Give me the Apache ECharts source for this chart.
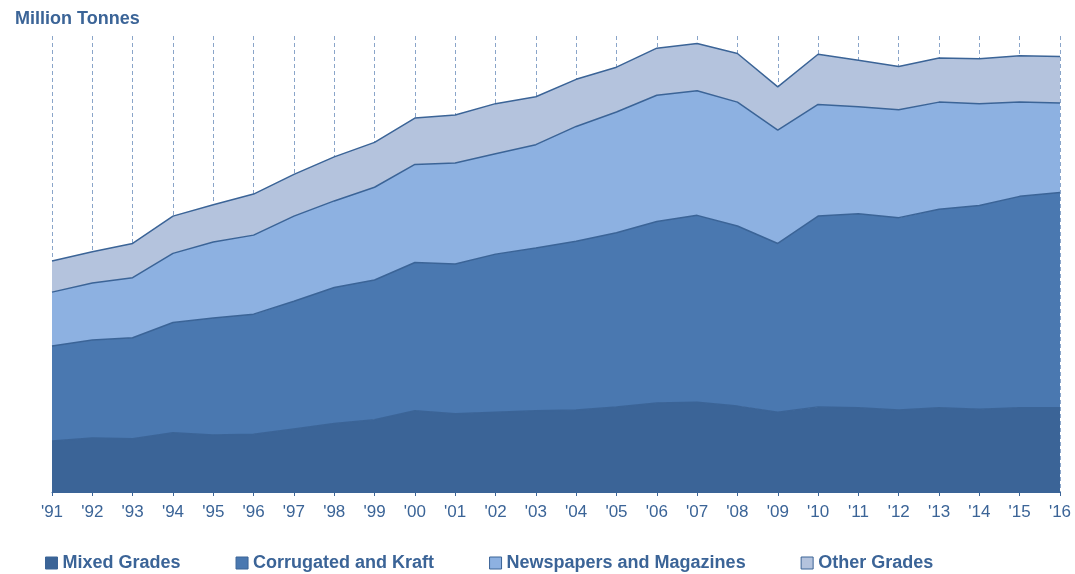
<!DOCTYPE html>
<html>
<head>
<meta charset="utf-8">
<script src="https://cdn.jsdelivr.net/npm/echarts@6/dist/echarts.min.js"></script>
<style>
  html, body { margin: 0; padding: 0; background: #fff; }
  #main { width: 1075px; height: 574px; }
</style>
</head>
<body>
<div id="main"></div>
<script>
var myChart = echarts.init(document.getElementById('main'));

// Years shown on the x axis
const years = ["'91", "'92", "'93", "'94", "'95", "'96", "'97", "'98", "'99", "'00", "'01", "'02", "'03",
               "'04", "'05", "'06", "'07", "'08", "'09", "'10", "'11", "'12", "'13", "'14", "'15", "'16"];

// Recovered paper by grade, million tonnes
const mixedGrades = [6.7, 7.1, 7.0, 7.8, 7.5, 7.6, 8.3, 9.0, 9.5, 10.7, 10.3, 10.5, 10.7,
                     10.8, 11.2, 11.7, 11.8, 11.3, 10.5, 11.2, 11.1, 10.8, 11.1, 10.9, 11.1, 11.1];
const corrugatedKraft = [12.5, 12.9, 13.3, 14.5, 15.4, 15.8, 16.8, 17.9, 18.4, 19.5, 19.7, 20.8, 21.4,
                         22.2, 22.9, 23.9, 24.6, 23.7, 22.2, 25.1, 25.5, 25.3, 26.1, 26.8, 27.8, 28.3];
const newsMagazines = [7.1, 7.5, 7.9, 9.1, 10.0, 10.4, 11.2, 11.4, 12.2, 12.9, 13.3, 13.2, 13.6,
                       15.1, 15.9, 16.6, 16.4, 16.3, 14.9, 14.7, 14.1, 14.2, 14.1, 13.4, 12.4, 11.8];
const otherGrades = [4.1, 4.1, 4.5, 4.9, 4.9, 5.4, 5.5, 5.8, 5.9, 6.1, 6.3, 6.6, 6.3,
                     6.2, 5.9, 6.2, 6.2, 6.4, 5.7, 6.6, 6.1, 5.7, 5.8, 5.9, 6.1, 6.1];

const edge = '#3b6497';

function areaSeries(name, data, fill) {
    return {
        name: name,
        type: 'line',
        stack: 'total',
        data: data,
        symbol: 'none',
        smooth: false,
        lineStyle: { color: edge, width: 1.5 },
        itemStyle: { color: fill },
        areaStyle: { color: fill, opacity: 1 }
    };
}

var option = {
    animation: false,
    title: {
        text: 'Million Tonnes',
        left: 10,
        top: 5,
        textStyle: {
            fontFamily: 'Liberation Sans, Arial, sans-serif',
            fontSize: 18,
            fontWeight: 'bold',
            color: edge
        }
    },
    grid: { left: 52, right: 15, top: 36, bottom: 82 },
    legend: {
        bottom: -3,
        left: 40,
        itemWidth: 12,
        itemHeight: 12,
        itemGap: 55,
        icon: 'rect',
        textStyle: {
            fontFamily: 'Liberation Sans, Arial, sans-serif',
            fontSize: 18,
            fontWeight: 'bold',
            color: edge
        },
        data: [
            { name: 'Mixed Grades', itemStyle: { color: '#3b6497', borderColor: edge, borderWidth: 1 } },
            { name: 'Corrugated and Kraft', itemStyle: { color: '#4a78b0', borderColor: edge, borderWidth: 1 } },
            { name: 'Newspapers and Magazines', itemStyle: { color: '#8db1e1', borderColor: edge, borderWidth: 1 } },
            { name: 'Other Grades', itemStyle: { color: '#b4c3dd', borderColor: edge, borderWidth: 1 } }
        ]
    },
    xAxis: {
        type: 'category',
        data: years,
        boundaryGap: false,
        axisLine: { lineStyle: { color: edge, width: 1 } },
        axisTick: { show: true, length: 4, lineStyle: { color: edge } },
        axisLabel: {
            margin: 12,
            fontFamily: 'Liberation Sans, Arial, sans-serif',
            fontSize: 17,
            color: edge
        },
        splitLine: {
            show: true,
            lineStyle: { color: '#8aa5c9', type: [4, 3], width: 1 }
        }
    },
    yAxis: {
        type: 'value',
        min: 0,
        max: 60,
        show: false,
        splitLine: { show: false }
    },
    series: [
        areaSeries('Mixed Grades', mixedGrades, '#3b6497'),
        areaSeries('Corrugated and Kraft', corrugatedKraft, '#4a78b0'),
        areaSeries('Newspapers and Magazines', newsMagazines, '#8db1e1'),
        areaSeries('Other Grades', otherGrades, '#b4c3dd')
    ]
};

myChart.setOption(option);
</script>
</body>
</html>
